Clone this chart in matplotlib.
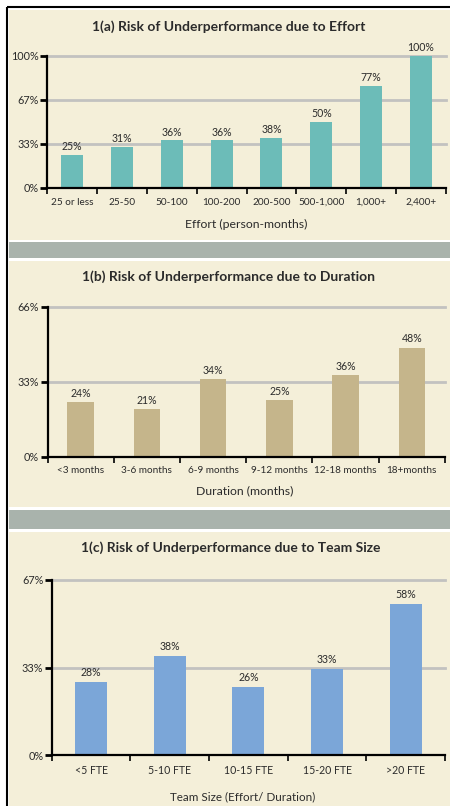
import matplotlib
matplotlib.use("Agg")
import matplotlib.pyplot as plt
from matplotlib.patches import Rectangle
import numpy as np

plt.rcParams['font.family'] = ['Lato', 'DejaVu Sans']

# data
effort_cats = ["25 or less", "25-50", "50-100", "100-200", "200-500", "500-1,000", "1,000+", "2,400+"]
effort_vals = [25, 31, 36, 36, 38, 50, 77, 100]

dur_cats = ["<3 months", "3-6 months", "6-9 months", "9-12 months", "12-18 months", "18+months"]
dur_vals = [24, 21, 34, 25, 36, 48]

team_cats = ["<5 FTE", "5-10 FTE", "10-15 FTE", "15-20 FTE", ">20 FTE"]
team_vals = [28, 38, 26, 33, 58]

W, H = 450, 806
fig = plt.figure(figsize=(W / 100, H / 100), dpi=100, facecolor="white")

CREAM = "#f4efd9"
BAND = "#a9b3ac"
GRID = "#c2c2c0"
TXT = "#2b2b2b"

# background axes in pixel coords (y from top)
bg = fig.add_axes([0, 0, 1, 1], zorder=-5)
bg.set_xlim(0, W)
bg.set_ylim(H, 0)
bg.axis("off")

def px_rect(x0, y0, x1, y1, color):
    bg.add_patch(Rectangle((x0, y0), x1 - x0, y1 - y0, facecolor=color, edgecolor="none"))

def px_text(x, y, s, **kw):
    bg.text(x, y, s, ha="center", va="center", color=TXT, **kw)

px_rect(9, 10, 450, 240, CREAM)
px_rect(9, 242, 450, 258, BAND)
px_rect(9, 261, 450, 507, CREAM)
px_rect(9, 510, 450, 529, BAND)
px_rect(9, 532, 450, 806, CREAM)

# black frame lines
bg.plot([6.5, 6.5], [6.5, H], color="black", lw=1.5, solid_capstyle="butt")
bg.plot([6.5, W], [6.5, 6.5], color="black", lw=1.5, solid_capstyle="butt")


def panel(x0, x1, ytop, ybot, cats, vals, ymax, yticks, ylabels, color, barw, fs=7.2, vfs=7.6):
    ax = fig.add_axes([x0 / W, 1 - ybot / H, (x1 - x0) / W, (ybot - ytop) / H])
    ax.patch.set_alpha(0)
    n = len(cats)
    x = np.arange(n)
    ax.set_xlim(-0.5, n - 0.5)
    ax.set_ylim(0, ymax)
    for yv in yticks[1:]:
        ax.axhline(yv, color=GRID, lw=2, zorder=1, clip_on=False)
    ax.bar(x, vals, width=barw, color=color, zorder=2)
    for xi, v in zip(x, vals):
        ax.text(xi, v + ymax * 0.022, f"{v}%", ha="center", va="bottom",
                fontsize=vfs, color=TXT, clip_on=False)
    for s in ["top", "right"]:
        ax.spines[s].set_visible(False)
    ax.spines["left"].set_linewidth(1.6)
    ax.spines["bottom"].set_linewidth(1.6)
    ax.set_yticks(yticks)
    ax.set_yticklabels(ylabels)
    ax.tick_params(axis="y", direction="out", length=5, width=2, pad=1,
                   labelsize=7.8, labelcolor=TXT)
    ax.set_xticks(x)
    ax.set_xticklabels(cats)
    ax.tick_params(axis="x", which="major", length=0, pad=7, labelsize=fs, labelcolor=TXT)
    ax.set_xticks(np.arange(n + 1) - 0.5, minor=True)
    ax.tick_params(axis="x", which="minor", direction="out", length=4, width=1.2)
    return ax


panel(47, 446, 56, 188, effort_cats, effort_vals, 100, [0, 100 / 3, 200 / 3, 100],
      ["0%", "33%", "67%", "100%"], "#6cbcb8", 0.44)
px_text(229, 27, "1(a) Risk of Underperformance due to Effort", fontsize=10, fontweight="bold")
px_text(246, 224, "Effort (person-months)", fontsize=8.8)

panel(47.5, 445, 306.7, 456.7, dur_cats, dur_vals, 66, [0, 33, 66],
      ["0%", "33%", "66%"], "#c5b58b", 0.4)
px_text(229, 277, "1(b) Risk of Underperformance due to Duration", fontsize=10, fontweight="bold")
px_text(245, 491, "Duration (months)", fontsize=8.8)

panel(51.7, 445, 580, 755, team_cats, team_vals, 67, [0, 33.5, 67],
      ["0%", "33%", "67%"], "#7ba6d8", 0.41, fs=7.6, vfs=7.6)
px_text(231, 548, "1(c) Risk of Underperformance due to Team Size", fontsize=10, fontweight="bold")
px_text(243, 797, "Team Size (Effort/ Duration)", fontsize=8.4)

fig.savefig("out.png", dpi=100)
